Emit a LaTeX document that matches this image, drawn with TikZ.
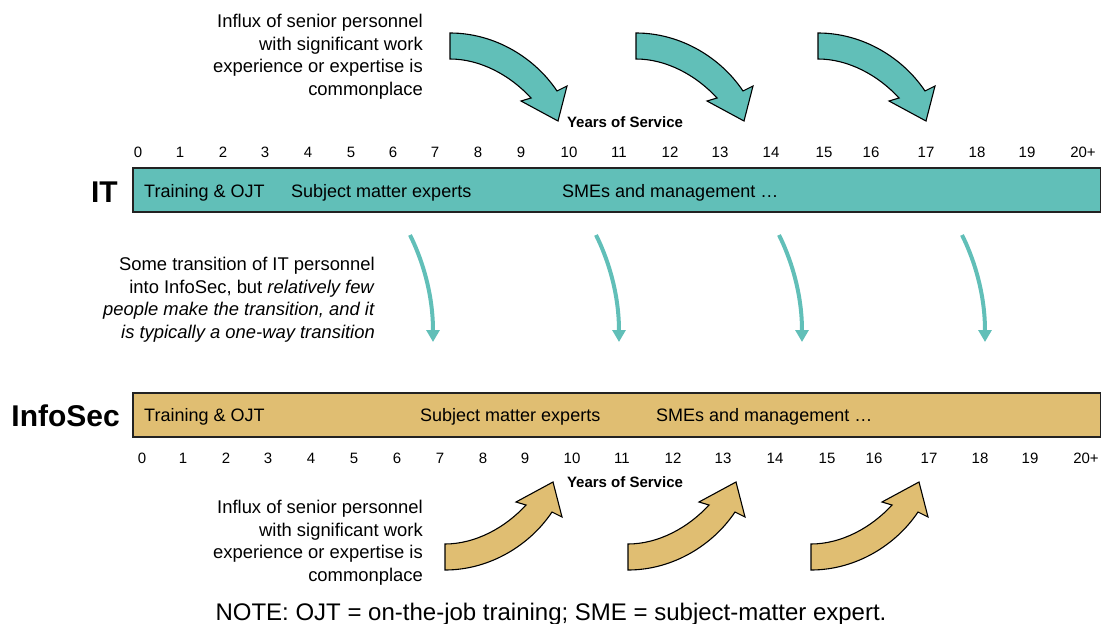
\documentclass[tikz,border=0pt]{standalone}
\usepackage{fontspec}
\setmainfont{Liberation Sans}
\usetikzlibrary{arrows.meta}
\definecolor{tealfill}{HTML}{61BFB8}
\definecolor{goldfill}{HTML}{E0BE72}
\definecolor{edge}{HTML}{222222}
\tikzset{
  body/.style={font=\fontsize{18.4}{22.7}\selectfont, align=right, inner sep=0pt, anchor=north east},
  tick/.style={font=\fontsize{15}{18}\selectfont, inner sep=0pt, anchor=base},
  barlabel/.style={font=\fontsize{18}{22}\selectfont, inner sep=0pt, anchor=base west},
  rowlabel/.style={font=\fontsize{30}{34}\selectfont\bfseries, inner sep=0pt, anchor=base east},
  yos/.style={font=\fontsize{15}{18}\selectfont\bfseries, inner sep=0pt, anchor=base},
  bar/.style={draw=edge, line width=1.5pt, minimum width=968pt, minimum height=44pt, anchor=north west, inner sep=0pt},
  bigarrow/.style={draw=black, line width=1.1pt, line join=miter},
  transarrow/.style={draw=tealfill, line width=4pt, -{Triangle[width=13pt,length=12pt]}},
}
\newcommand{\curvedarrowpath}{(0,0) .. controls (45,0) and (85,25) .. (107,58) -- (117,53) -- (108,88) -- (71,68) -- (81,65) .. controls (60,42) and (30,26) .. (0,26) -- cycle}
\begin{document}
\begin{tikzpicture}[x=1pt,y=-1pt]
\useasboundingbox (0,0) rectangle (1101,624);

% top text
\node[body] (topnote) at (423,14) {Influx of senior personnel\\with significant work\\experience or expertise is\\commonplace};

% top curved arrows
\foreach \x in {450,636,818}{
  \begin{scope}[shift={(\x,33)}]
    \path[bigarrow, fill=tealfill] \curvedarrowpath;
  \end{scope}
}
\node[yos] (yostop) at (625,127) {Years of Service};

% top ticks
\foreach \lab/\x in {0/138,1/180,2/223,3/265,4/308,5/351,6/393,7/435,8/478,9/521,10/569,11/619,12/670,13/720,14/771,15/824,16/871,17/926,18/977,19/1027,20+/1083}{
  \node[tick] (t\lab) at (\x,157) {\lab};
}

% IT bar
\node[bar, fill=tealfill] (itbar) at (132,167) {};
\node[rowlabel] (itlab) at (118,202) {IT};
\node[barlabel] (it1) at (144,197) {Training \& OJT};
\node[barlabel] (it2) at (291,197) {Subject matter experts};
\node[barlabel] (it3) at (562,197) {SMEs and management …};

% transition text
\node[body] (transnote) at (375,257) {Some transition of IT personnel\\into InfoSec, but \textit{relatively few}\\\textit{people make the transition, and it}\\\textit{is typically a one-way transition}};

% transition arrows
\foreach \i/\x in {1/410,2/596,3/779,4/962}{
  \coordinate (s\i) at (\x,235);
  \coordinate (e\i) at (\x+23,342);
  \draw[transarrow] (s\i) .. controls ([shift={(10,20)}]s\i) and ([shift={(0,-52)}]e\i) .. (e\i);
}

% InfoSec bar
\node[bar, fill=goldfill] (isbar) at (132,392) {};
\node[rowlabel] (islab) at (120,426) {InfoSec};
\node[barlabel] (is1) at (144,421) {Training \& OJT};
\node[barlabel] (is2) at (420,421) {Subject matter experts};
\node[barlabel] (is3) at (656,421) {SMEs and management …};

% bottom ticks
\foreach \lab/\x in {0/142,1/183,2/226,3/268,4/311,5/354,6/397,7/440,8/483,9/525,10/572,11/622,12/673,13/723,14/775,15/827,16/874,17/929,18/980,19/1030,20+/1086}{
  \node[tick] (b\lab) at (\x,463) {\lab};
}
\node[yos] (yosbot) at (625,487) {Years of Service};

% bottom curved arrows
\foreach \x in {445,628,811}{
  \begin{scope}[shift={(\x,570)}, yscale=-1]
    \path[bigarrow, fill=goldfill] \curvedarrowpath;
  \end{scope}
}

% bottom text
\node[body] (botnote) at (423,500) {Influx of senior personnel\\with significant work\\experience or expertise is\\commonplace};

% note
\node[font=\fontsize{24}{28}\selectfont, inner sep=0pt, anchor=base] (note) at (551,620) {NOTE: OJT = on-the-job training; SME = subject-matter expert.};
\end{tikzpicture}
\end{document}
